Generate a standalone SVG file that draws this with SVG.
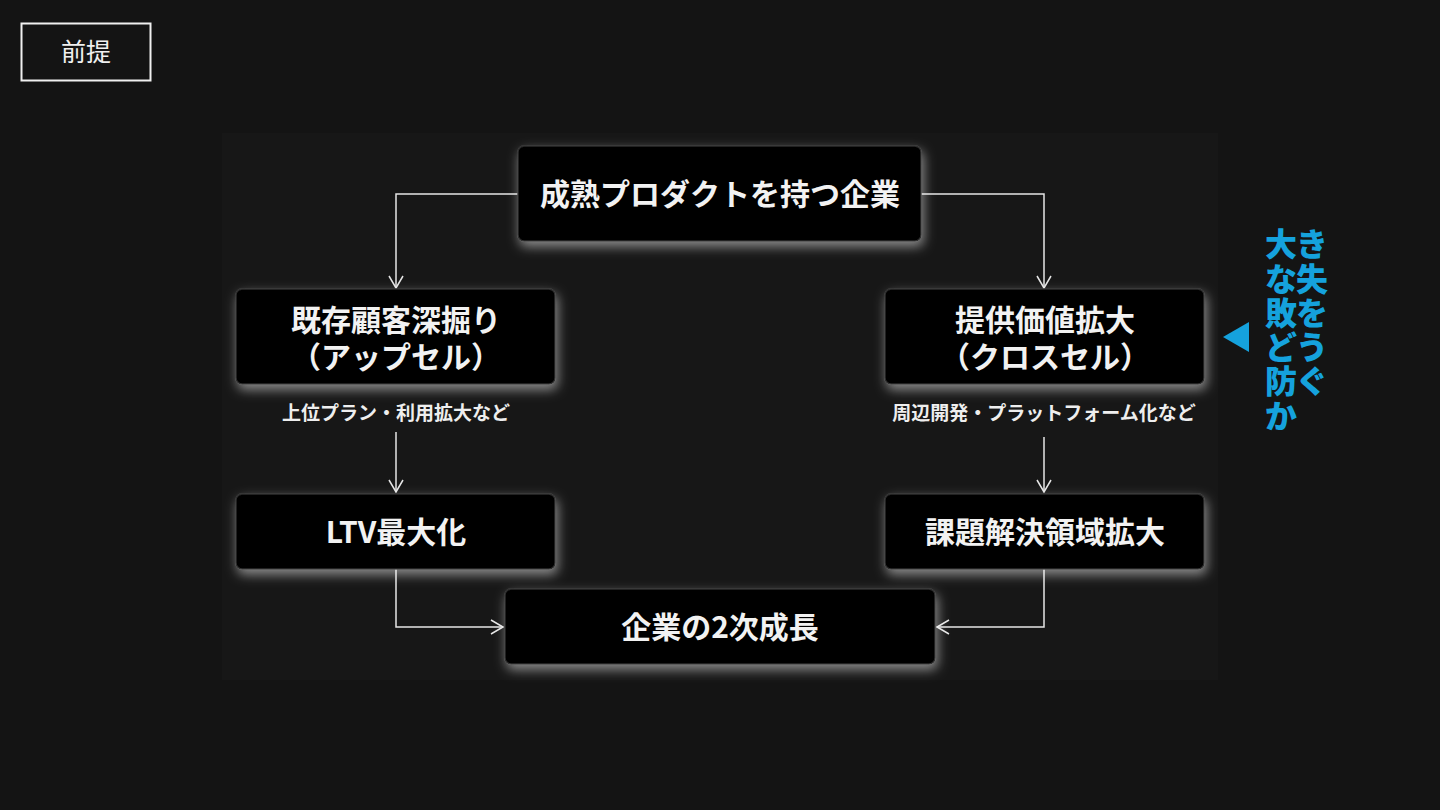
<svg xmlns="http://www.w3.org/2000/svg" width="1440" height="810" viewBox="0 0 1440 810">
<defs>
<style>
.node{fill:#060606;stroke:#2e2e2e;stroke-width:1.5;filter:url(#glow)}
.nt{font-family:"Noto Sans CJK JP","Noto Sans",sans-serif;font-weight:700;font-size:30px;fill:#f2f2f2;text-anchor:middle}
.lbl{font-family:"Noto Sans CJK JP","Noto Sans",sans-serif;font-weight:700;font-size:19px;fill:#eeeeee;text-anchor:middle}
.con{fill:none;stroke:#e6e6e6;stroke-width:1.5;marker-end:url(#arr)}
.blue{font-family:"Noto Sans CJK JP",sans-serif;font-weight:900;font-size:32px;fill:#15a2dd;letter-spacing:-1px}
</style>
<filter id="glow" x="-20%" y="-40%" width="140%" height="190%">
<feFlood flood-color="#ffffff" flood-opacity="0.5" result="f"/>
<feComposite in="f" in2="SourceAlpha" operator="in" result="w"/>
<feOffset in="w" dx="2" dy="5" result="o"/>
<feGaussianBlur in="o" stdDeviation="6" result="b"/>
<feMerge><feMergeNode in="b"/><feMergeNode in="SourceGraphic"/></feMerge>
</filter>
<marker id="arr" viewBox="0 0 16 16" refX="14" refY="8" markerWidth="16" markerHeight="16" markerUnits="userSpaceOnUse" orient="auto">
<path d="M2,1 L14,8 L2,15" fill="none" stroke="#e6e6e6" stroke-width="1.5"/>
</marker>
</defs>
<rect width="1440" height="810" fill="#141414"/>
<rect x="222" y="133" width="996" height="547" fill="#171717"/>

<g id="premise">
<rect x="21.5" y="23.5" width="129" height="57" fill="none" stroke="#f0f0f0" stroke-width="2"/>
<text x="86" y="61" font-family="Noto Sans CJK JP,sans-serif" font-size="25" fill="#f0f0f0" text-anchor="middle">前提</text>
</g>

<g id="connectors">
<polyline class="con" points="518,194 396,194 396,288"/>
<polyline class="con" points="921,194 1044,194 1044,288"/>
<line class="con" x1="396" y1="432" x2="396" y2="492"/>
<line class="con" x1="1044" y1="437" x2="1044" y2="492"/>
<polyline class="con" points="396,569 396,627 503,627"/>
<polyline class="con" points="1044,569 1044,627 937,627"/>
</g>

<g id="node-top">
<rect class="node" x="518" y="146" width="403" height="95" rx="6"/>
<text class="nt" x="720" y="205">成熟プロダクトを持つ企業</text>
</g>
<g id="node-upsell">
<rect class="node" x="236" y="289" width="319" height="95" rx="6"/>
<text class="nt" x="396" y="331">既存顧客深掘り</text>
<text class="nt" x="396" y="368">（アップセル）</text>
</g>
<g id="node-crosssell">
<rect class="node" x="885" y="289" width="319" height="95" rx="6"/>
<text class="nt" x="1045" y="331">提供価値拡大</text>
<text class="nt" x="1045" y="368">（クロスセル）</text>
</g>
<g id="label-left">
<text class="lbl" x="396" y="420">上位プラン・利用拡大など</text>
</g>
<g id="label-right">
<text class="lbl" x="1044" y="420">周辺開発・プラットフォーム化など</text>
</g>
<g id="node-ltv">
<rect class="node" x="236" y="494" width="319" height="75" rx="6"/>
<text class="nt" x="396" y="543">LTV最大化</text>
</g>
<g id="node-domain">
<rect class="node" x="885" y="494" width="319" height="75" rx="6"/>
<text class="nt" x="1045" y="543">課題解決領域拡大</text>
</g>
<g id="node-growth">
<rect class="node" x="505" y="589" width="430" height="75" rx="6"/>
<text class="nt" x="720" y="638">企業の2次成長</text>
</g>

<g id="callout">
<polygon points="1223,337 1249,322 1249,352" fill="#15a2dd"/>
<text class="blue"><tspan x="1265" y="256">大き</tspan><tspan x="1265" y="291">な失</tspan><tspan x="1265" y="325">敗を</tspan><tspan x="1265" y="359">どう</tspan><tspan x="1265" y="393">防ぐ</tspan><tspan x="1265" y="428">か</tspan></text>
</g>
</svg>
